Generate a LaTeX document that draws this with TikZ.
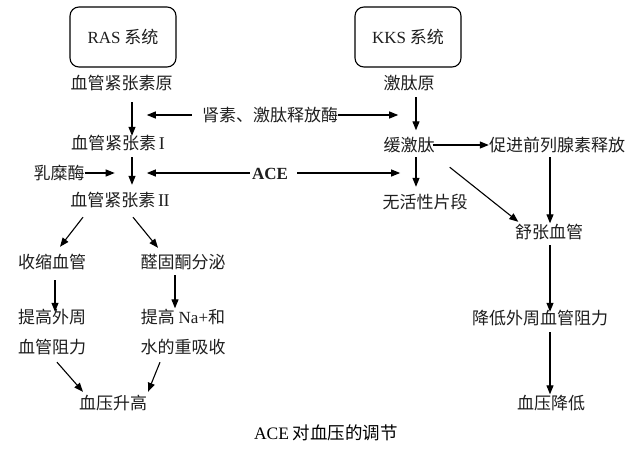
\documentclass[tikz,border=0pt]{standalone}
\usepackage{fontspec}
\setmainfont{Noto Sans CJK SC}
\newfontfamily\lat{Liberation Serif}
\usetikzlibrary{arrows.meta,calc}
\definecolor{tcol}{RGB}{30,30,30}
\begin{document}
\begin{tikzpicture}[x=1pt,y=1pt,
  txt/.style={inner sep=0pt, text height=14.5pt, text depth=2.5pt, font=\fontsize{17}{20}\selectfont, text=tcol},
  arr/.style={-{Triangle[length=9pt,width=7pt]}, line width=1.1pt},
  sysbox/.style={draw, rounded corners=9pt, line width=1.1pt, minimum width=106pt, minimum height=60pt, inner sep=0pt, font=\fontsize{17}{20}\selectfont, text=tcol}]
\useasboundingbox (0,0) rectangle (639,-448);
\fill[white] (0,0) rectangle (639,-448);
% system boxes
\node[sysbox] (rasbox) at (123,-37) {{\lat RAS} 系统};
\node[sysbox] (kksbox) at (408,-37) {{\lat KKS} 系统};
% RAS column
\node[txt] (agt) at (121.5,-83) {血管紧张素原};
\node[txt] (ang1) at (118,-143) {血管紧张素\,{\lat\fontsize{18}{20}\selectfont I}};
\node[txt] (ang2) at (120,-200) {血管紧张素\,{\lat\fontsize{18}{20}\selectfont I\kern-0.5pt I}};
\node[txt] (renin) at (270,-115) {肾素、激肽释放酶};
\node[txt] (chy) at (59,-173) {乳糜酶};
\node[txt, font=\fontsize{17}{20}\selectfont\lat\bfseries] (ace) at (270,-173) {ACE};
\node[txt] (vc) at (52,-262) {收缩血管};
\node[txt] (ald) at (183,-262) {醛固酮分泌};
\node[txt] (pra) at (52,-317) {提高外周};
\node[txt] (prb) at (52,-347) {血管阻力};
\node[txt] (naa) at (183,-317) {提高 {\lat Na+}和};
\node[txt] (nab) at (183,-347) {水的重吸收};
\node[txt] (bpu) at (113,-403) {血压升高};
% KKS column
\node[txt] (kgn) at (409,-83) {激肽原};
\node[txt] (bk) at (409,-145) {缓激肽};
\node[txt] (inact) at (425,-202) {无活性片段};
\node[txt] (pg) at (557,-145) {促进前列腺素释放};
\node[txt] (vd) at (549,-232) {舒张血管};
\node[txt] (lowr) at (540,-318) {降低外周血管阻力};
\node[txt] (bpd) at (551,-403) {血压降低};
% caption
\node[inner sep=0pt, font=\fontsize{17.5}{20}\selectfont, text=black] (cap) at (326,-433) {{\lat ACE} 对血压的调节};
% arrows
\draw[arr] ($(agt.south)+(10.5,-10.5)$) -- ($(ang1.north)+(14,-1.5)$);
\draw[arr] ($(renin.west)+(-10,0)$) -- ($(renin.west)+(-55,0)$);
\draw[arr] (renin.east) -- ($(renin.east)+(60,0)$);
\draw[arr] ($(kgn.south)+(7,-5.5)$) -- ($(bk.north)+(7,6)$);
\draw[arr] ($(ang1.south)+(14,-5.5)$) -- ($(ang2.north)+(12,6.5)$);
\draw[arr] (chy.east) -- ($(chy.east)+(30,0)$);
\draw[arr] ($(ace.west)+(-2,0)$) -- ($(ace.west)+(-105,0)$);
\draw[arr] ($(ace.east)+(9,0)$) -- ($(ace.east)+(112,0)$);
\draw[arr] ($(bk.south)+(7,-3.5)$) -- ($(inact.north)+(-9,6.5)$);
\draw[arr] ($(bk.east)+(-2,0)$) -- (pg.west);
\draw[arr] ($(pg.south)+(-7,-3.5)$) -- ($(vd.north)+(1,0)$);
\draw[arr] ($(bk.south east)+(15,-13.5)$) -- ($(vd.north west)+(3.5,1.5)$);
\draw[arr] ($(vd.south)+(1,-4.5)$) -- ($(lowr.north)+(10,-2.5)$);
\draw[arr] ($(lowr.south)+(10,-5.5)$) -- ($(bpd.north)+(-1,0)$);
\draw[arr] ($(ang2.south)+(-37,-8.5)$) -- ($(vc.north)+(8,6.5)$);
\draw[arr] ($(ang2.south)+(13,-8.5)$) -- ($(ald.north)+(-25,5.5)$);
\draw[arr] ($(vc.south)+(3,-9.5)$) -- ($(pra.north)+(3,-3.5)$);
\draw[arr] ($(ald.south)+(-8,-4.5)$) -- ($(naa.north)+(-8,0)$);
\draw[arr] ($(prb.south)+(5,-6.5)$) -- ($(bpu.north)+(-30,2.5)$);
\draw[arr] ($(nab.south)+(-23,-6.5)$) -- ($(bpu.north)+(35,2.5)$);
\end{tikzpicture}
\end{document}
